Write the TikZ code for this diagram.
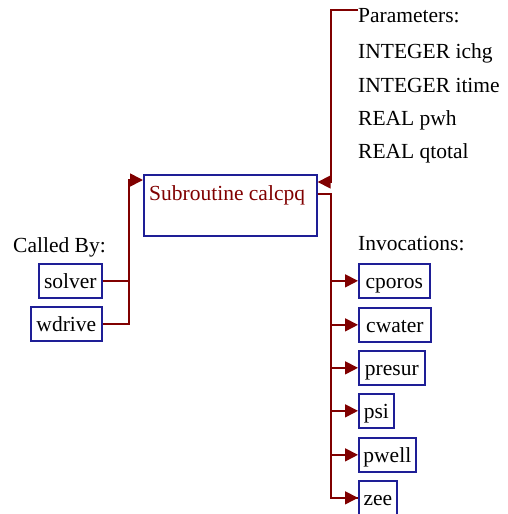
\documentclass[tikz,border=0pt]{standalone}
\usepackage{fontspec}
\setmainfont{Liberation Serif}
\usetikzlibrary{arrows.meta, positioning}
\definecolor{callred}{HTML}{800000}
\definecolor{boxblue}{HTML}{1E1E96}

\begin{document}
\begin{tikzpicture}[
    x=1pt, y=-1pt,
    font=\fontsize{21.5}{25}\selectfont,
    >={Triangle[length=13pt,width=13pt]},
    link/.style={draw=callred, line width=1.7pt},
    func/.style={rectangle, draw=boxblue, line width=1.7pt, minimum height=34pt, inner xsep=3pt, inner ysep=0pt,
        text height=16pt, text depth=0pt, anchor=north west},
    txt/.style={anchor=base west, inner sep=0pt},
]
    \useasboundingbox (0,0) rectangle (508,514);

    % the subroutine itself
    \node[func, minimum width=173pt, minimum height=61pt] (main) at (143,174) {};
    \node[txt, text=callred] (title) at (149,200) {Subroutine calcpq};

    % callers
    \node[txt] (calledby) at (13,252) {Called By:};
    \node[func, minimum width=63pt] (solver) at (38,263) {solver};
    \node[func, minimum width=71pt] (wdrive) at (30,306) {wdrive};
    \coordinate (callbus) at (129,180);
    \draw[link] (solver.east) -| (callbus);
    \draw[link, ->] (wdrive.east) -| (callbus) -- (callbus -| main.west);

    % parameters
    \node[txt] (params) at (358,22) {Parameters:};
    \node[txt] (p1) at (358,58) {INTEGER ichg};
    \node[txt] (p2) at (358,92) {INTEGER itime};
    \node[txt] (p3) at (358,125) {REAL pwh};
    \node[txt] (p4) at (358,158) {REAL qtotal};
    \coordinate (parbus) at (331,10);
    \draw[link, ->] (parbus -| params.west) -- (parbus) -- (331,182) -- (main.east |- 0,182);

    % invocations
    \node[txt] (invoc) at (358,250) {Invocations:};
    \node[func, minimum width=71pt] (cporos) at (358,263) {cporos};
    \node[func, minimum width=72pt] (cwater) at (358,307) {cwater};
    \node[func, minimum width=66pt] (presur) at (358,350) {presur};
    \node[func, minimum width=35pt] (psi) at (358,393) {psi};
    \node[func, minimum width=57pt] (pwell) at (358,437) {pwell};
    \node[func, minimum width=38pt] (zee) at (358,480) {zee};
    \coordinate (invbus) at (331,194);
    \draw[link] (main.east |- invbus) -- (invbus) |- (zee.west);
    \foreach \f in {cporos, cwater, presur, psi, pwell, zee}
        \draw[link, ->] (invbus |- \f.west) -- (\f.west);
\end{tikzpicture}
\end{document}
